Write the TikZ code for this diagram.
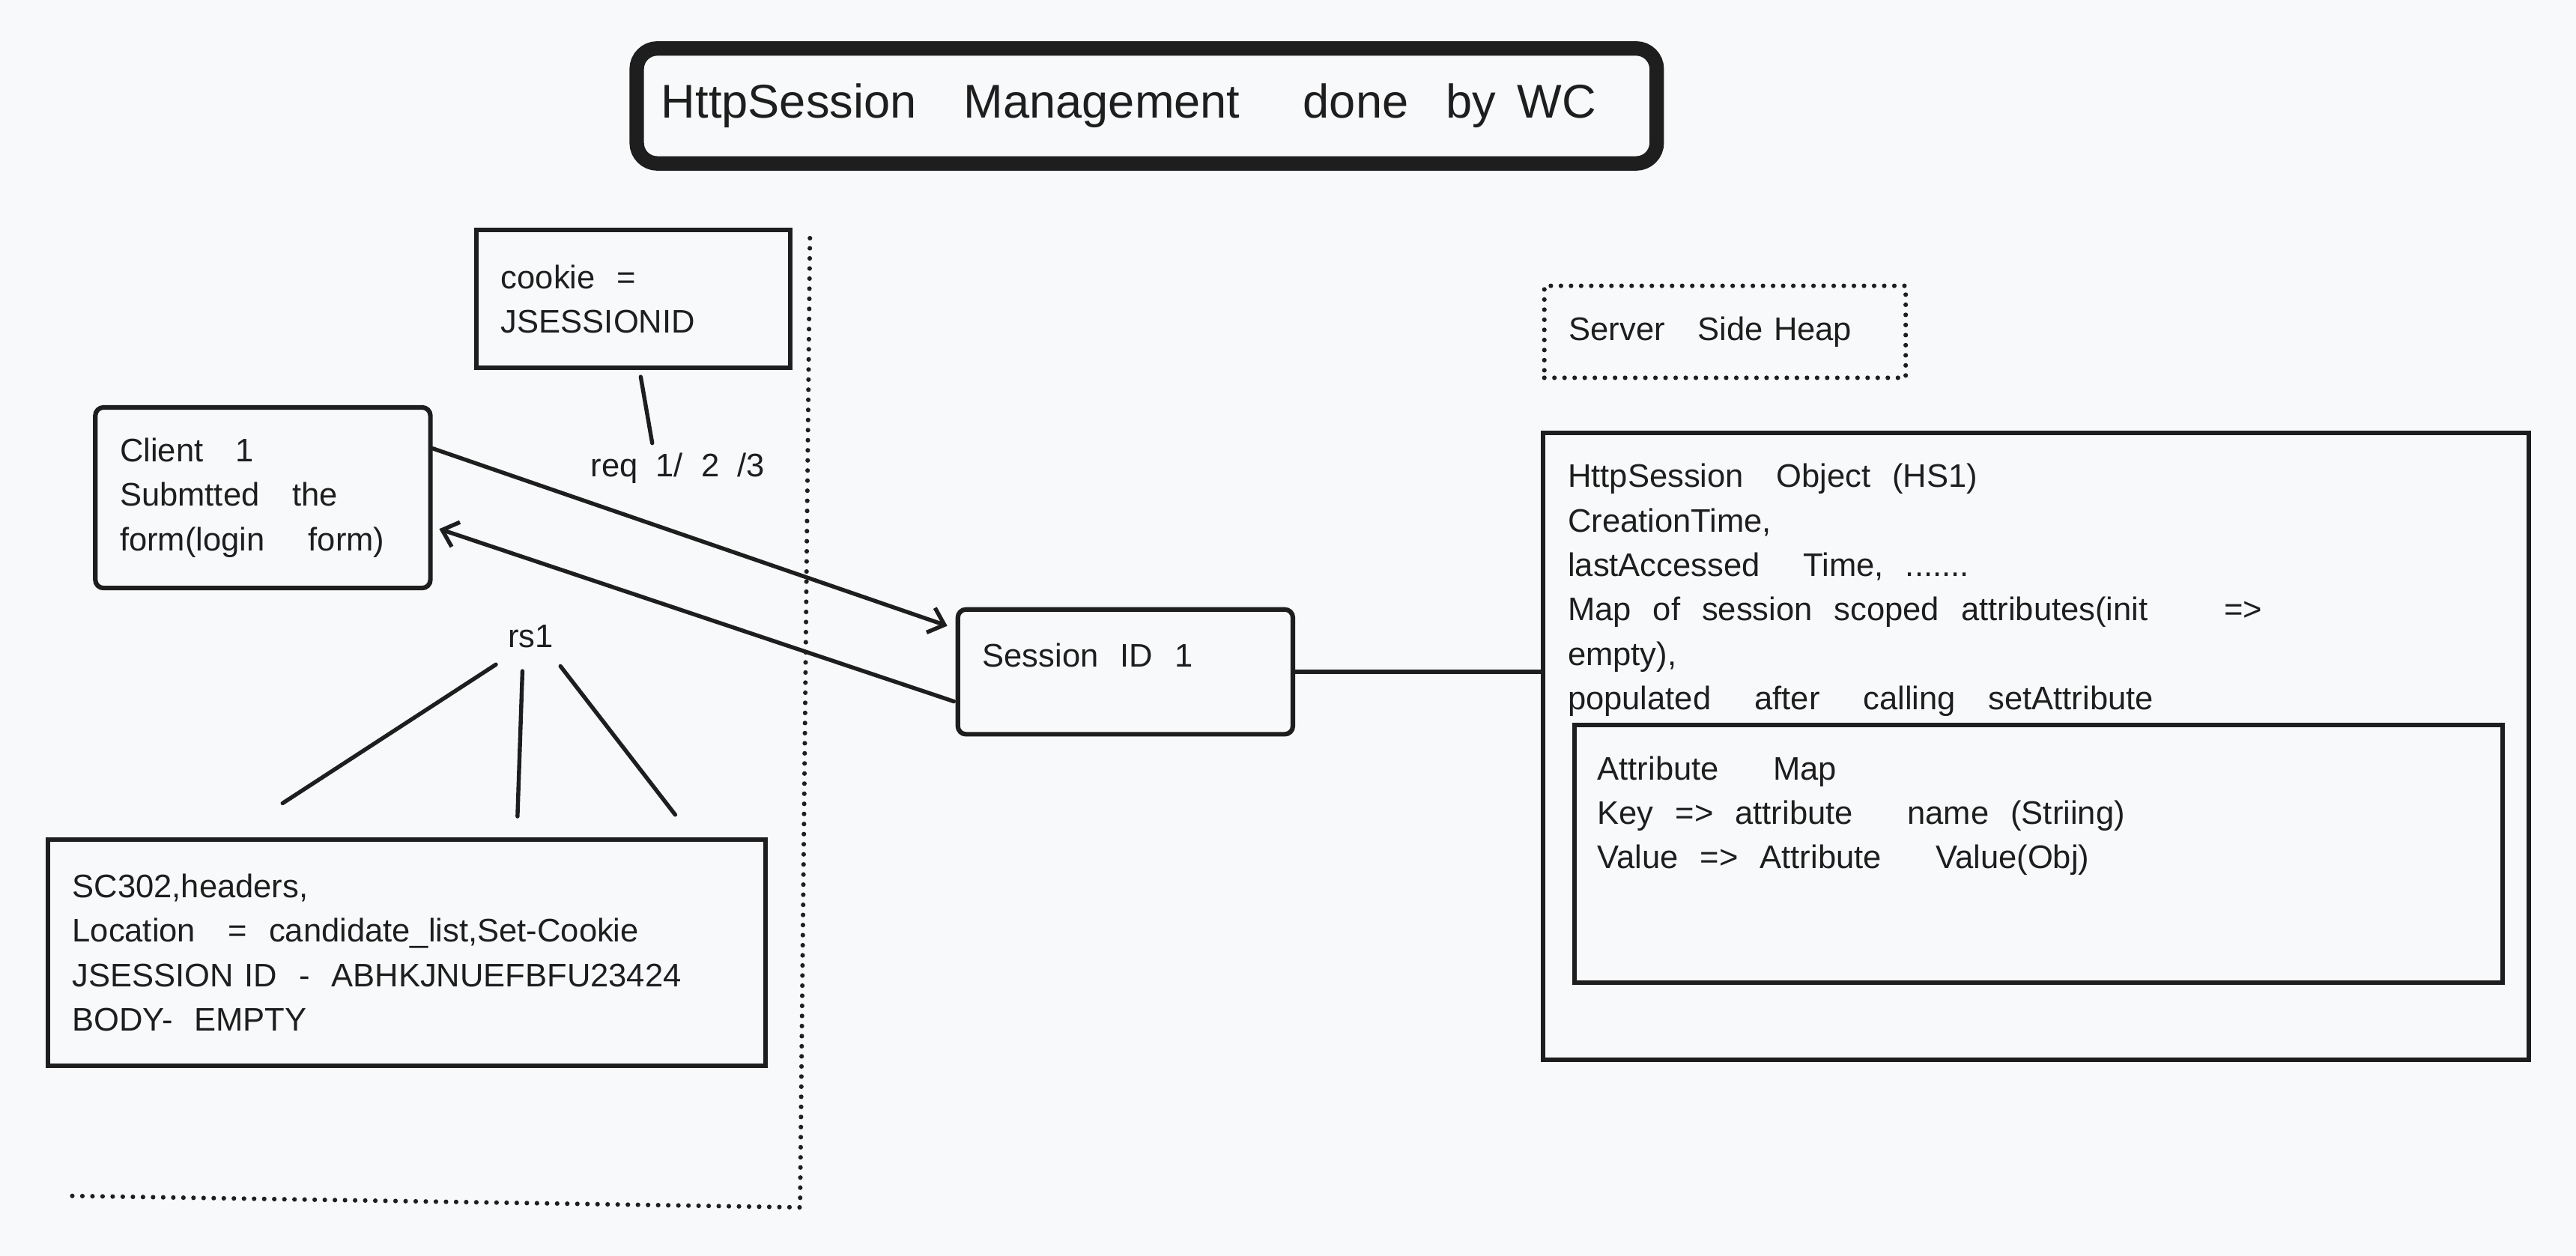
\documentclass[tikz,border=0pt]{standalone}
\usepackage{fontspec}
\setmainfont{Liberation Sans}
\usetikzlibrary{arrows.meta}
\definecolor{ink}{RGB}{30,30,30}
\definecolor{paper}{RGB}{248,249,250}
\newcommand\bodyfont{\fontsize{11.3}{15.4}\selectfont}
\newcommand\titlefont{\fontsize{16.4}{20}\selectfont}

\begin{document}
\begin{tikzpicture}[x=0.02cm,y=-0.02cm,
	box/.style={draw=ink,line width=1.6pt,text=ink,align=left,inner xsep=0.3cm,inner ysep=0pt,font=\bodyfont},
	frame/.style={draw=ink,line width=1.6pt,inner sep=0pt},
	plain/.style={text=ink,inner sep=0pt,align=left,font=\bodyfont},
	titlebox/.style={draw=ink,line width=5pt,rounded corners=0.25cm,text=ink,align=left,inner xsep=0.3cm,font=\titlefont},
	link/.style={draw=ink,line width=1.4pt,line cap=round},
	arrow/.style={link,-{Straight Barb[length=5pt,width=9pt]}},
	dots/.style={draw=ink,line width=1.6pt,line cap=round,dash pattern=on 0pt off 3.5pt}]
	% paper
	\fill[paper] (0,0) rectangle (1568,764.6);
	\useasboundingbox (0,0) rectangle (1568,764.6);
	% title
	\node[titlebox,text width=11.82cm,minimum height=1.4cm] (title) at (698,64.5)
	{HttpSession~~~Management~~~~done~~\hspace{2pt}by~\hspace{2pt}WC};
	% client side
	\node[box,text width=3.22cm,minimum height=1.68cm] (cookie) at (385.5,182)
	{cookie~~=\\JSESSIONID};
	\node[plain,anchor=base] (req) at (412.5,290) {req~~1/~~2~~/3};
	\node[box,rounded corners=0.1cm,text width=3.48cm,minimum height=2.2cm] (client) at (160,303)
	{Client~~~1\\Submtted~~~the\\form(login~~~~form)};
	\node[plain,anchor=base] (rs1) at (323,394) {rs1};
	\node[box,text width=8.14cm,minimum height=2.76cm] (resp) at (247.5,580)
	{SC302,headers,\\Location~~~=~~candidate\_list,Set-Cookie\\JSESSION ID~~-~~ABHKJNUEFBFU23424\\BODY-~~EMPTY};
	\coordinate (rsa) at (172,489);
	\coordinate (rsb) at (315,497);
	\coordinate (rsc) at (411,496);
	% boundary
	\draw[dots] (493,145) -- (487,735) -- (42,728);
	% server side
	\node[box,rounded corners=0.1cm,text width=3.48cm,minimum height=1.52cm,text height=0.3cm,text depth=0.42cm] (session) at (685,409)
	{Session~~ID~~1};
	\node[box,dots,text width=3.8cm,minimum height=1.12cm] (heap) at (1050,202)
	{Server~~~Side~Heap};
	\node[frame,minimum width=12cm,minimum height=7.64cm,anchor=north west] (hs) at (938,262) {};
	\node[plain,text width=11cm,anchor=north west] (hstext) at (954,282)
	{HttpSession~~~Object~~(HS1)\\CreationTime,\\lastAccessed~~~~Time,~~.......\\Map~~of~~session~~scoped~~attributes(init~~~~~~~=>\\empty),\\populated~~~~after~~~~calling~~~setAttribute};
	\node[frame,minimum width=11.3cm,minimum height=3.14cm,anchor=north west] (attr) at (957,440) {};
	\node[plain,text width=10.5cm,anchor=north west] (attrtext) at (972,460)
	{Attribute~~~~~Map\\Key~~=>~~attribute~~~~~name~~(Striing)\\Value~~=>~~Attribute~~~~~Value(Obj)};
	% connectors
	\draw[link] ([xshift=0.09cm,yshift=-0.08cm]cookie.south) -- ([xshift=-0.31cm,yshift=0.11cm]req.north);
	\draw[arrow] ([yshift=0.6cm]client.east) -- ([xshift=-0.1cm,yshift=0.56cm]session.west);
	\draw[arrow] ([xshift=-0.02cm,yshift=-0.36cm]session.west) -- ([xshift=0.08cm,yshift=-0.38cm]client.east);
	\draw[link] (session.east) -- (session.east -| hs.west);
	\draw[link] ([xshift=-0.14cm,yshift=-0.2cm]rs1.south west) -- (rsa);
	\draw[link] ([xshift=-0.1cm,yshift=-0.28cm]rs1.south) -- (rsb);
	\draw[link] ([xshift=0.08cm,yshift=-0.22cm]rs1.south east) -- (rsc);
\end{tikzpicture}
\end{document}
